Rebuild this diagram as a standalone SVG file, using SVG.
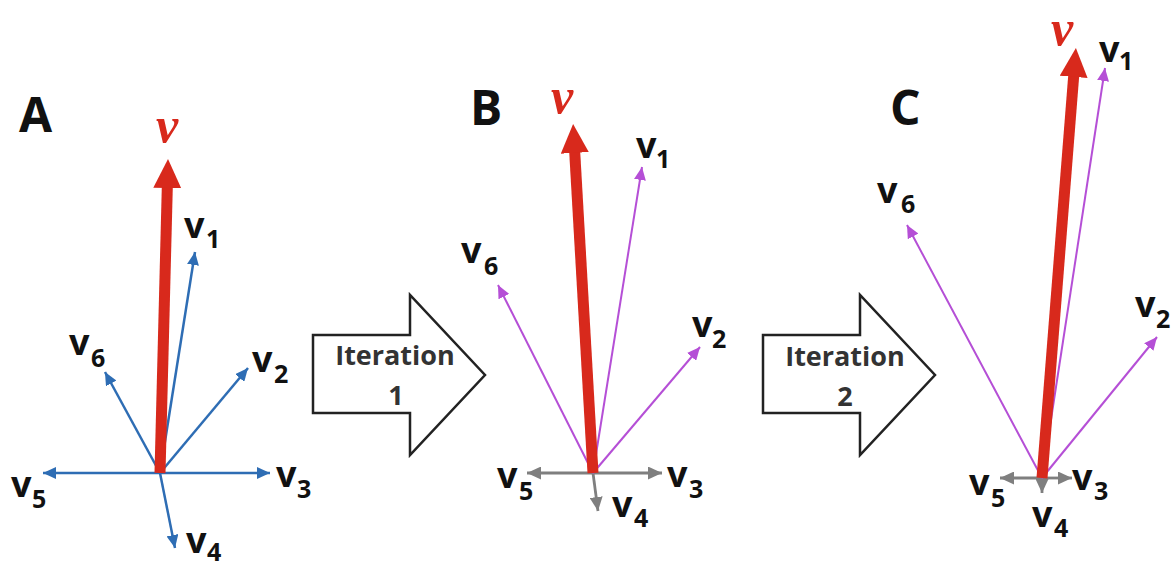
<svg xmlns="http://www.w3.org/2000/svg" width="1171" height="567" viewBox="0 0 1171 567">
<defs>
<style>
.pl{font-family:"Open Sans","Liberation Sans",sans-serif;font-weight:bold;font-size:48px;fill:#111}
.lb{font-family:"Open Sans","Liberation Sans",sans-serif;font-weight:bold;font-size:36px;fill:#111}
.sb{font-size:25px}
.rv{font-family:"Liberation Serif","DejaVu Serif",serif;font-style:italic;font-weight:bold;font-size:50px;fill:#d8291c}
.it{font-family:"Open Sans","Liberation Sans",sans-serif;font-weight:bold;font-size:27px;fill:#333;text-anchor:middle}
.blue{stroke:#2e6db4;stroke-width:2.5;fill:none;marker-end:url(#hb)}
.mag{stroke:#b54fd6;stroke-width:2;fill:none;marker-end:url(#hm)}
.gray{stroke:#7f7f7f;stroke-width:2.8;fill:none;marker-end:url(#hg)}
.red{stroke:#d8291c;stroke-width:11;fill:none;marker-end:url(#hr)}
.box{fill:#fff;stroke:#222;stroke-width:2.5;stroke-linejoin:miter}
</style>
<marker id="hb" markerUnits="userSpaceOnUse" viewBox="0 0 13 12" refX="13" refY="6" markerWidth="13" markerHeight="12" orient="auto"><path d="M0,0 L13,6 L0,12 z" fill="#2e6db4"/></marker>
<marker id="hm" markerUnits="userSpaceOnUse" viewBox="0 0 13 12" refX="13" refY="6" markerWidth="13" markerHeight="12" orient="auto"><path d="M0,0 L13,6 L0,12 z" fill="#b54fd6"/></marker>
<marker id="hg" markerUnits="userSpaceOnUse" viewBox="0 0 14 13" refX="14" refY="6.5" markerWidth="14" markerHeight="13" orient="auto"><path d="M0,0 L14,6.5 L0,13 z" fill="#7f7f7f"/></marker>
<marker id="hr" markerUnits="userSpaceOnUse" viewBox="0 0 29 28" refX="1" refY="14" markerWidth="29" markerHeight="28" orient="auto"><path d="M0,0 L29,14 L0,28 z" fill="#d8291c"/></marker>
</defs>
<rect width="1171" height="567" fill="#fff"/>

<g id="connectors">
  <g id="vectors-A">
    <line class="blue" x1="160" y1="473" x2="195" y2="252"/>
    <line class="blue" x1="160" y1="473" x2="248" y2="368"/>
    <line class="blue" x1="160" y1="473" x2="270" y2="473"/>
    <line class="blue" x1="160" y1="473" x2="175" y2="548"/>
    <line class="blue" x1="160" y1="473" x2="43" y2="473"/>
    <line class="blue" x1="160" y1="473" x2="105" y2="372"/>
    <line class="red" x1="160" y1="473" x2="167.3" y2="187"/>
  </g>
  <g id="vectors-B">
    <line class="gray" x1="593" y1="473" x2="662" y2="473"/>
    <line class="gray" x1="593" y1="473" x2="527" y2="473"/>
    <line class="gray" x1="593" y1="473" x2="598" y2="511"/>
    <line class="mag" x1="593" y1="473" x2="642" y2="167"/>
    <line class="mag" x1="593" y1="473" x2="700" y2="347"/>
    <line class="mag" x1="593" y1="473" x2="498" y2="285"/>
    <line class="red" x1="593" y1="473" x2="574.7" y2="151.9"/>
  </g>
  <g id="vectors-C">
    <line class="gray" x1="1042" y1="478" x2="1072" y2="478"/>
    <line class="gray" x1="1042" y1="478" x2="1000" y2="478"/>
    <line class="gray" x1="1042" y1="476" x2="1042" y2="493"/>
    <line class="mag" x1="1042" y1="478" x2="1105" y2="68"/>
    <line class="mag" x1="1042" y1="478" x2="1157" y2="337"/>
    <line class="mag" x1="1042" y1="478" x2="907" y2="225"/>
    <line class="red" x1="1042" y1="478" x2="1073.7" y2="75.9"/>
  </g>
</g>

<g id="iteration-1">
  <polygon class="box" points="313,335 410,335 410,295 485,375 410,455 410,413 313,413"/>
  <text class="it" x="395" y="365">Iteration</text>
  <text class="it" x="396" y="405">1</text>
</g>
<g id="iteration-2">
  <polygon class="box" points="763,335 860,335 860,295 935,375 860,455 860,413 763,413"/>
  <text class="it" x="845" y="366">Iteration</text>
  <text class="it" x="845" y="406">2</text>
</g>

<g id="panel-A">
  <text class="pl" x="19" y="132">A</text>
  <text class="rv" x="156" y="142">v</text>
  <text class="lb" x="184" y="238">v<tspan class="sb" x="206" y="248">1</tspan></text>
  <text class="lb" x="252" y="372">v<tspan class="sb" x="274" y="383">2</tspan></text>
  <text class="lb" x="276" y="487">v<tspan class="sb" x="297" y="498">3</tspan></text>
  <text class="lb" x="186" y="553">v<tspan class="sb" x="207" y="561">4</tspan></text>
  <text class="lb" x="11" y="497">v<tspan class="sb" x="32" y="508">5</tspan></text>
  <text class="lb" x="69" y="355">v<tspan class="sb" x="91" y="367">6</tspan></text>
</g>
<g id="panel-B">
  <text class="pl" x="470" y="125">B</text>
  <text class="rv" x="551" y="113">v</text>
  <text class="lb" x="636" y="158">v<tspan class="sb" x="656" y="168">1</tspan></text>
  <text class="lb" x="692" y="337">v<tspan class="sb" x="712" y="348">2</tspan></text>
  <text class="lb" x="667" y="487">v<tspan class="sb" x="689" y="498">3</tspan></text>
  <text class="lb" x="612" y="517">v<tspan class="sb" x="634" y="527">4</tspan></text>
  <text class="lb" x="497" y="488">v<tspan class="sb" x="519" y="500">5</tspan></text>
  <text class="lb" x="461" y="263">v<tspan class="sb" x="484" y="275">6</tspan></text>
</g>
<g id="panel-C">
  <text class="pl" x="890" y="125">C</text>
  <text class="rv" x="1051" y="45">v</text>
  <text class="lb" x="1099" y="62">v<tspan class="sb" x="1119" y="70">1</tspan></text>
  <text class="lb" x="1135" y="317">v<tspan class="sb" x="1156" y="328">2</tspan></text>
  <text class="lb" x="1072" y="490">v<tspan class="sb" x="1094" y="500">3</tspan></text>
  <text class="lb" x="1032" y="527">v<tspan class="sb" x="1054" y="537">4</tspan></text>
  <text class="lb" x="969" y="495">v<tspan class="sb" x="991" y="507">5</tspan></text>
  <text class="lb" x="877" y="203">v<tspan class="sb" x="901" y="213">6</tspan></text>
</g>
</svg>
